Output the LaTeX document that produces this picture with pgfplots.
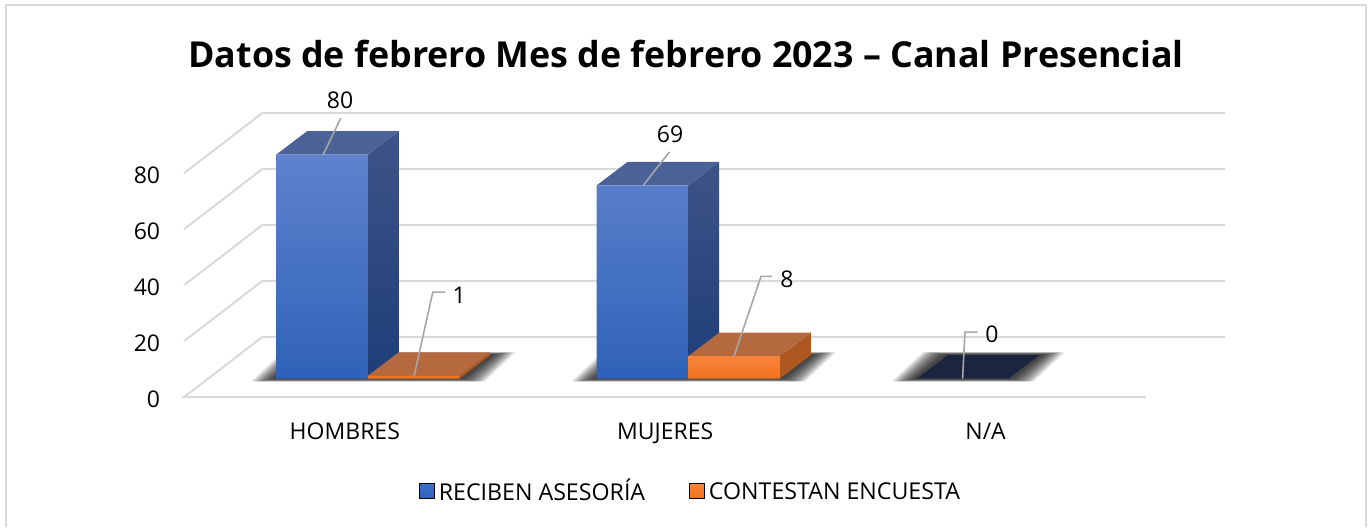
\documentclass[border=0pt]{standalone}
\usepackage{fontspec}
\setmainfont{Open Sans}
\usepackage{pgfplots}
\pgfplotsset{compat=1.18}

\definecolor{gridgray}{RGB}{217,217,217}
\definecolor{leader}{RGB}{166,166,166}
\definecolor{bluetop}{RGB}{74,98,152}
\definecolor{blueA}{RGB}{94,130,205}
\definecolor{blueB}{RGB}{60,111,202}
\definecolor{blueC}{RGB}{47,98,184}
\definecolor{sideA}{RGB}{62,84,136}
\definecolor{sideB}{RGB}{30,61,120}
\definecolor{orangetop}{RGB}{181,105,62}
\definecolor{orangeA}{RGB}{248,132,58}
\definecolor{orangeB}{RGB}{240,115,30}
\definecolor{oside}{RGB}{172,88,32}
\definecolor{navy}{RGB}{28,37,64}

% 1 px of the reference = 0.5pt; both axes cover the whole picture
\pgfplotsset{canvas/.style={
    scale only axis, width=686pt, height=263.5pt,
    axis line style={draw=none}, major tick length=0pt,
    clip=false, axis on top=false,
}}

% depth of a bar, in category units and value units
\newcommand{\ddx}{0.0967}
\newcommand{\ddy}{8.4}
\newcommand{\bw}{0.286}

% top and side face: left edge, value, top colour, side colour(s)
\newcommand{\barfaces}[5]{%
  \pgfmathsetmacro{\xa}{#1}\pgfmathsetmacro{\xb}{#1+\bw}%
  \pgfmathsetmacro{\xc}{#1+\bw+\ddx}\pgfmathsetmacro{\xd}{#1+\ddx}%
  \pgfmathsetmacro{\yt}{#2+\ddy}%
  \addplot[forget plot, draw=none, shade, top color=#4, bottom color=#5]
    coordinates {(\xb,0)(\xc,\ddy)(\xc,\yt)(\xb,#2)} -- cycle;
  \addplot[forget plot, draw=none, fill=#3]
    coordinates {(\xa,#2)(\xb,#2)(\xc,\yt)(\xd,\yt)} -- cycle;
}
% one soft layer of the floor shadow
\newcommand{\shadowlayer}[4]{%
  \pgfmathsetmacro{\sa}{#1-#3}\pgfmathsetmacro{\sb}{#2+#3}%
  \pgfmathsetmacro{\sc}{#2+\ddx+#3}\pgfmathsetmacro{\sd}{#1+\ddx-#3}%
  \pgfmathsetmacro{\sl}{-#4}\pgfmathsetmacro{\sh}{\ddy+#4}%
  \addplot[forget plot, draw=none, fill=black, fill opacity=0.1]
    coordinates {(\sa,\sl)(\sb,\sl)(\sc,\sh)(\sd,\sh)} -- cycle;
}
\newcommand{\floorshadow}[2]{%
  \shadowlayer{#1}{#2}{0.078}{1.0}\shadowlayer{#1}{#2}{0.072}{1.0}%
  \shadowlayer{#1}{#2}{0.066}{1.0}\shadowlayer{#1}{#2}{0.060}{1.0}%
  \shadowlayer{#1}{#2}{0.054}{0.9}\shadowlayer{#1}{#2}{0.048}{0.8}%
  \shadowlayer{#1}{#2}{0.042}{0.7}\shadowlayer{#1}{#2}{0.036}{0.6}%
  \shadowlayer{#1}{#2}{0.030}{0.5}\shadowlayer{#1}{#2}{0.024}{0.4}%
  \shadowlayer{#1}{#2}{0.018}{0.3}\shadowlayer{#1}{#2}{0.012}{0.2}%
}

\begin{document}
\begin{tikzpicture}

% walls, floor, value axis: front plane of the chart
\begin{axis}[canvas,
    xmin=0, xmax=1372, ymin=-46.43, ymax=141.79,
    xtick=\empty,
    ytick={0,20,40,60,80},
    yticklabel style={xshift=83.5pt, yshift=-1pt, font=\fontsize{11.5}{14}\selectfont},
    /pgf/number format/assume math mode=true,
]
\addplot[forget plot, gridgray, line width=1pt] coordinates {(6,-46.43)(6,139.9)(1366,139.9)(1366,-46.43)};
\addplot[forget plot, gridgray, line width=1pt] coordinates {(1146,0)(184,0)(262,21.43)(1225,21.43)};
\addplot[forget plot, gridgray, line width=1pt] coordinates {(184,20)(262,41.43)(1225,41.43)};
\addplot[forget plot, gridgray, line width=1pt] coordinates {(184,40)(262,61.43)(1225,61.43)};
\addplot[forget plot, gridgray, line width=1pt] coordinates {(184,60)(262,81.43)(1225,81.43)};
\addplot[forget plot, gridgray, line width=1pt] coordinates {(184,80)(262,101.43)(1225,101.43)};
\end{axis}

% bars
\begin{axis}[canvas,
    xmin=-1.1473, xmax=3.1335, ymin=-53.04, ymax=135.18,
    xtick={0,1,2}, xticklabels={HOMBRES,MUJERES,N/A},
    xticklabel style={xshift=-11.5pt, yshift=55.5pt, font=\fontsize{11.5}{14}\selectfont},
    ytick=\empty,
    title={Datos de febrero Mes de febrero 2023 – Canal Presencial},
    title style={at={(axis description cs:0.5,0.876)}, anchor=center, font=\fontsize{17.9}{22}\bfseries},
    legend style={at={(axis description cs:0.504,0.068)}, anchor=center, draw=none, fill=none,
        legend columns=2, font=\fontsize{11.6}{14}\selectfont,
        /tikz/every even column/.append style={column sep=20pt}},
]
\floorshadow{-0.286}{0.286}
\floorshadow{0.714}{1.286}
\floorshadow{1.714}{2}

\barfaces{-0.286}{80}{bluetop}{sideA}{sideB}
\barfaces{0.714}{69}{bluetop}{sideA}{sideB}
\addplot[forget plot, ybar, bar width=45.85pt, bar shift=-22.925pt, draw=none,
    shade, top color=blueA, middle color=blueB, bottom color=blueC]
    coordinates {(0,80)(1,69)};
\barfaces{0}{1}{orangetop}{oside}{oside}
\barfaces{1}{8}{orangetop}{oside}{oside}
\addplot[forget plot, ybar, bar width=45.85pt, bar shift=22.925pt, draw=none,
    shade, top color=orangeA, bottom color=orangeB]
    coordinates {(0,1)(1,8)};
\addplot[forget plot, draw=none, fill=navy]
    coordinates {(1.714,0)(2,0)(2.0967,8.4)(1.8107,8.4)} -- cycle;

% leader lines and value labels
\addplot[forget plot, leader, line width=0.8pt] coordinates {(-0.1404,79.8)(-0.0842,93.04)};
\addplot[forget plot, leader, line width=0.8pt] coordinates {(0.1445,0.9)(0.2028,30.9)(0.2412,30.9)};
\addplot[forget plot, leader, line width=0.8pt] coordinates {(0.8580,68.8)(0.9417,81.0)};
\addplot[forget plot, leader, line width=0.8pt] coordinates {(1.1429,7.9)(1.2271,36.5)(1.2614,36.5)};
\addplot[forget plot, leader, line width=0.8pt] coordinates {(1.8564,0)(1.8637,16.6)(1.9033,16.6)};
\node[font=\fontsize{11.5}{14}\selectfont] at (axis cs:-0.0864,99.5) {80};
\node[font=\fontsize{11.5}{14}\selectfont] at (axis cs:0.2849,29.8) {1};
\node[font=\fontsize{11.5}{14}\selectfont] at (axis cs:0.9432,87.3) {69};
\node[font=\fontsize{11.5}{14}\selectfont] at (axis cs:1.3083,35.5) {8};
\node[font=\fontsize{11.5}{14}\selectfont] at (axis cs:1.9479,15.9) {0};

\addlegendimage{legend image code/.code={\path[top color=blueB, bottom color=blueC] (0pt,-3.7pt) rectangle (7.5pt,3.7pt);}}
\addlegendentry{\strut RECIBEN ASESORÍA}
\addlegendimage{legend image code/.code={\path[top color=orangeA, bottom color=orangeB] (0pt,-3.7pt) rectangle (7.5pt,3.7pt);}}
\addlegendentry{\strut CONTESTAN ENCUESTA}
\end{axis}
\end{tikzpicture}
\end{document}
